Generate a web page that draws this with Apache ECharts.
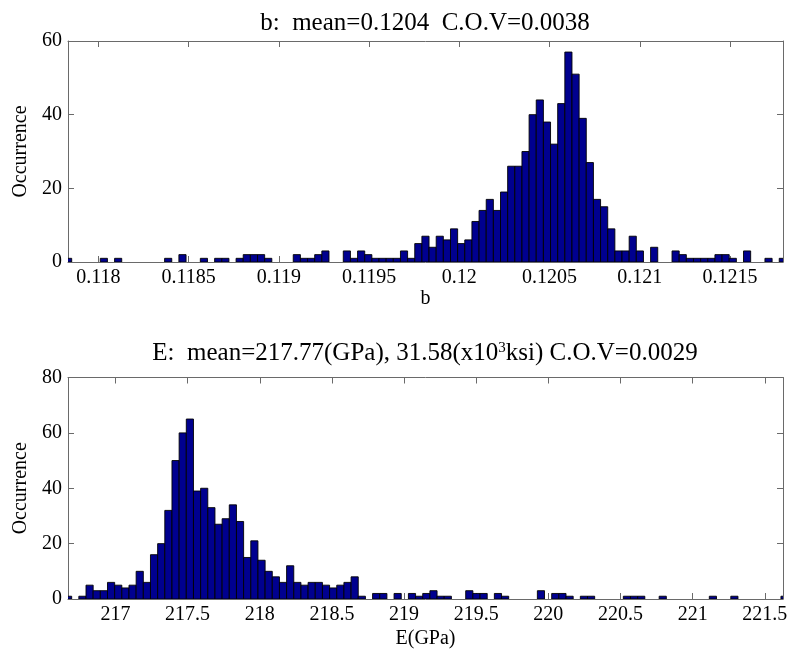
<!DOCTYPE html>
<html>
<head>
<meta charset="utf-8">
<script src="https://cdn.jsdelivr.net/npm/echarts@6/dist/echarts.min.js"></script>
<style>
html,body{margin:0;padding:0;background:#fff;}
#chart{width:791px;height:659px;}
</style>
</head>
<body>
<div id="chart"></div>
<script>
// ---------- data: b histogram ----------
const bBinStart = 0.1178131;
const bBinWidth = 0.00003959;
const bCounts = [
  1,0,0,0,0,1,0,1,0,0,
  0,0,0,0,1,0,2,0,0,1,
  0,1,1,0,1,2,2,2,1,0,
  0,0,2,1,1,2,3,0,0,3,
  1,3,2,1,1,1,1,3,1,5,
  7,4,7,6,9,5,6,11,14,17,
  14,19,26,26,30,40,44,38,32,43,
  57,51,39,27,17,15,9,3,3,7,
  3,0,4,0,0,3,2,1,1,1,
  1,2,2,1,0,3,0,0,1,0,
  1
];
const bAxisMin = 0.1178322;
const bAxisMax = 0.1217929;
const bTickVals = [0.118, 0.1185, 0.119, 0.1195, 0.12, 0.1205, 0.121, 0.1215];
const bTickLabels = ['0.118', '0.1185', '0.119', '0.1195', '0.12', '0.1205', '0.121', '0.1215'];
const bYTicks = [0, 20, 40, 60];

// ---------- data: E histogram ----------
const eBinStart = 216.6468;
const eBinWidth = 0.04965;
const eCounts = [
  1,0,1,5,3,3,6,5,4,5,
  10,6,16,20,32,50,60,65,39,40,
  33,27,29,34,28,15,21,14,10,8,
  6,12,6,5,6,6,5,4,5,6,
  8,1,0,2,2,0,2,0,2,1,
  2,3,1,1,0,0,3,2,2,0,
  2,1,0,0,0,0,3,0,2,2,
  1,0,1,1,0,0,0,0,1,1,
  1,0,0,1,0,0,0,0,0,0,
  1,0,0,1,0,0,0,0,0,0,
  1
];
const eAxisMin = 216.671;
const eAxisMax = 221.626;
const eTickVals = [217, 217.5, 218, 218.5, 219, 219.5, 220, 220.5, 221, 221.5];
const eTickLabels = ['217', '217.5', '218', '218.5', '219', '219.5', '220', '220.5', '221', '221.5'];
const eYTicks = [0, 20, 40, 60, 80];

// ---------- titles / labels ----------
const bTitle = 'b:  mean=0.1204  C.O.V=0.0038';
const eTitle = 'E:  mean=217.77(GPa), 31.58(x10{sup|3}ksi) C.O.V=0.0029';
const bXName = 'b';
const eXName = 'E(GPa)';
const yName = 'Occurrence';

// ---------- styling ----------
const FONT = '"Liberation Serif", "Times New Roman", serif';
const AXIS_COLOR = '#6a6a6a';
const BAR_FILL = '#00008f';
const BAR_EDGE = '#000000';

function histData(counts, start, width) {
  const out = [];
  counts.forEach((c, i) => {
    if (c > 0) out.push([start + i * width, start + (i + 1) * width, c]);
  });
  return out;
}

function histSeries(counts, start, width, idx) {
  return {
    type: 'custom',
    xAxisIndex: idx * 2,
    yAxisIndex: idx * 2,
    clip: true,
    silent: true,
    data: histData(counts, start, width),
    encode: { x: [0, 1], y: 2 },
    renderItem: function (params, api) {
      const p0 = api.coord([api.value(0), 0]);
      const p1 = api.coord([api.value(1), api.value(2)]);
      return {
        type: 'rect',
        shape: { x: p0[0], y: p1[1], width: p1[0] - p0[0], height: p0[1] - p1[1] },
        style: { fill: BAR_FILL, stroke: BAR_EDGE, lineWidth: 0.9 }
      };
    }
  };
}

function labelFor(vals, labels) {
  return function (v) {
    for (let i = 0; i < vals.length; i++) {
      if (Math.abs(vals[i] - v) < 1e-9 * Math.max(1, Math.abs(v))) return labels[i];
    }
    return '';
  };
}

const lineStyle = { color: AXIS_COLOR, width: 1 };

function xAxes(gridIndex, min, max, vals, labels, name, nameGap) {
  return [
    {
      type: 'value', gridIndex, min, max, position: 'bottom',
      name, nameLocation: 'middle', nameGap,
      nameTextStyle: { fontFamily: FONT, fontSize: 20, color: '#000' },
      axisLine: { show: true, onZero: false, lineStyle },
      axisTick: { show: true, inside: true, length: 6, lineStyle, customValues: vals },
      axisLabel: { show: true, customValues: vals, formatter: labelFor(vals, labels),
        fontFamily: FONT, fontSize: 20, color: '#000', margin: 6, hideOverlap: false },
      splitLine: { show: false }
    },
    {
      type: 'value', gridIndex, min, max, position: 'top',
      axisLine: { show: true, onZero: false, lineStyle },
      axisTick: { show: true, inside: true, length: 6, lineStyle, customValues: vals },
      axisLabel: { show: false },
      splitLine: { show: false }
    }
  ];
}

function yAxes(gridIndex, ticks) {
  const max = ticks[ticks.length - 1];
  const interval = ticks[1] - ticks[0];
  return [
    {
      type: 'value', gridIndex, min: 0, max, interval, position: 'left',
      name: yName, nameLocation: 'middle', nameGap: 36, nameRotate: 90,
      nameTextStyle: { fontFamily: FONT, fontSize: 20, color: '#000' },
      axisLine: { show: true, onZero: false, lineStyle },
      axisTick: { show: true, inside: true, length: 6, lineStyle },
      axisLabel: { fontFamily: FONT, fontSize: 20, color: '#000', margin: 6 },
      splitLine: { show: false }
    },
    {
      type: 'value', gridIndex, min: 0, max, interval, position: 'right',
      axisLine: { show: true, onZero: false, lineStyle },
      axisTick: { show: true, inside: true, length: 6, lineStyle },
      axisLabel: { show: false },
      splitLine: { show: false }
    }
  ];
}

const chart = echarts.init(document.getElementById('chart'), null, { renderer: 'canvas' });

const option = {
  animation: false,
  backgroundColor: '#ffffff',
  grid: [
    { left: 68, top: 41, width: 715, height: 221 },
    { left: 68, top: 377.5, width: 715, height: 221.5 }
  ],
  xAxis: [
    ...xAxes(0, bAxisMin, bAxisMax, bTickVals, bTickLabels, bXName, 26),
    ...xAxes(1, eAxisMin, eAxisMax, eTickVals, eTickLabels, eXName, 30)
  ],
  yAxis: [
    ...yAxes(0, bYTicks),
    ...yAxes(1, eYTicks)
  ],
  series: [
    histSeries(bCounts, bBinStart, bBinWidth, 0),
    histSeries(eCounts, eBinStart, eBinWidth, 1)
  ],
  graphic: [
    {
      type: 'text', x: 425, y: 23,
      style: { text: bTitle, fontFamily: FONT, fontSize: 25, fill: '#000',
        textAlign: 'center', textVerticalAlign: 'middle' }
    },
    {
      type: 'text', x: 425, y: 353,
      style: { text: eTitle, fontFamily: FONT, fontSize: 25, fill: '#000',
        textAlign: 'center', textVerticalAlign: 'middle',
        rich: { sup: { fontFamily: FONT, fontSize: 15, fill: '#000', verticalAlign: 'top', padding: [0, 0, 10, 0] } } }
    }
  ]
};

chart.setOption(option);
</script>
</body>
</html>
